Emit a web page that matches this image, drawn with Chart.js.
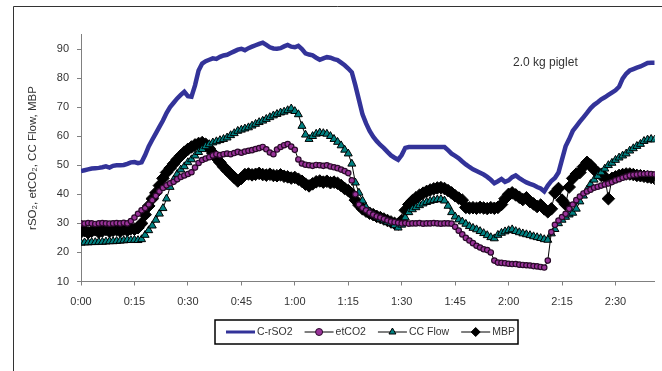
<!DOCTYPE html>
<html>
<head>
<meta charset="utf-8">
<script src="https://cdn.jsdelivr.net/npm/chart.js@4.4.1/dist/chart.umd.min.js"></script>
<style>
  html, body { margin: 0; padding: 0; background: #fff; }
</style>
</head>
<body>
<canvas id="pigletChart" width="662" height="371"></canvas>
<script>
// one reading per minute, 0:00 .. 2:41
const SAMPLE_MIN = 1;

const rso2 = [
  48.0, 48.3, 48.6, 48.9, 49.0, 49.1, 49.3, 49.6, 49.2, 49.8,
  50.0, 50.0, 50.1, 50.5, 51.0, 51.1, 50.7, 51.0, 53.5, 56.5,
  58.8, 61.0, 63.2, 65.4, 68.0, 70.0, 71.5, 73.0, 74.2, 75.3,
  73.8, 73.6, 77.5, 82.6, 85.0, 85.8, 86.3, 86.8, 86.6, 87.3,
  87.8, 88.0, 88.6, 89.2, 89.8, 90.1, 89.6, 90.3, 90.8, 91.3,
  91.8, 92.2, 91.4, 90.6, 90.2, 90.1, 90.3, 90.9, 91.4, 90.8,
  90.6, 91.1, 90.0, 88.5, 88.1, 87.8, 87.0, 86.3, 86.8, 87.2,
  87.0, 86.5, 86.2, 85.3, 84.4, 83.3, 82.0, 77.5, 72.5, 67.5,
  64.4, 61.8, 59.8, 58.3, 57.0, 55.9, 54.6, 53.4, 52.6, 51.9,
  53.5, 56.0, 56.3, 56.3, 56.3, 56.3, 56.3, 56.3, 56.3, 56.3,
  56.3, 56.3, 56.3, 55.2, 54.0, 53.2, 52.4, 51.3, 50.3, 49.4,
  48.6, 48.0, 47.4, 46.8, 46.0, 45.0, 43.8, 44.5, 45.3, 44.3,
  44.8, 45.9, 46.5, 45.6, 44.8, 44.1, 43.6, 43.2, 42.5, 42.0,
  41.0, 43.0, 44.6, 45.6, 47.5, 52.0, 56.5, 59.0, 61.8, 63.4,
  65.0, 66.5, 68.0, 69.6, 70.8, 71.7, 72.7, 73.4, 74.2, 75.0,
  75.8, 77.0, 79.8, 81.5, 82.6, 83.1, 83.6, 84.0, 84.6, 85.2,
  85.3, 85.3
];

const etco2 = [
  30.0, 29.9, 30.1, 30.0, 29.8, 30.0, 30.1, 30.0, 29.9, 30.0,
  30.1, 30.0, 30.2, 30.0, 30.8, 32.0, 33.3, 34.5, 35.3, 36.5,
  38.0, 39.5, 41.0, 42.2, 43.1, 43.8, 44.3, 45.2, 46.0, 46.5,
  47.0, 47.6, 49.2, 50.8, 51.8, 52.3, 52.8, 53.4, 53.8, 53.5,
  53.8, 54.0, 53.8, 54.2, 54.6, 54.3, 54.7, 55.0, 55.2, 55.6,
  55.9, 56.3, 55.5, 54.4, 53.8, 55.4, 56.3, 56.9, 57.3, 56.4,
  55.3, 52.0, 50.6, 50.2, 50.0, 49.8, 50.1, 50.0, 49.8, 50.0,
  49.6, 49.3, 49.0, 48.5, 48.0, 47.3, 44.8, 40.0, 36.5, 35.3,
  34.5, 33.7, 33.0, 32.4, 32.0, 31.5, 31.0, 30.6, 30.4, 30.2,
  30.0, 30.1, 29.9, 30.0, 30.0, 30.1, 29.9, 30.0, 30.0, 30.1,
  30.0, 29.9, 30.0, 30.0, 29.9, 28.8, 27.5, 26.2, 25.0, 24.1,
  23.2, 22.3, 21.7, 21.1, 20.8, 20.0, 17.2, 16.5, 16.4, 16.3,
  16.1, 16.0, 16.0, 15.8, 15.7, 15.6, 15.5, 15.3, 15.2, 15.0,
  14.8, 17.2, 27.0, 29.5, 31.0, 32.2, 33.3, 35.0, 36.5, 38.0,
  39.2, 40.3, 41.0, 41.6, 42.3, 42.6, 43.0, 43.4, 43.7, 44.2,
  44.8, 45.2, 45.7, 46.1, 46.5, 46.7, 46.8, 47.0, 47.0, 47.1,
  47.0, 46.9
];

const ccFlow = [
  23.3, 23.4, 23.4, 23.5, 23.5, 23.6, 23.6, 23.7, 23.8, 23.8,
  23.9, 24.0, 24.1, 24.3, 24.2, 24.3, 24.2, 24.5, 26.0, 27.6,
  29.2, 31.2, 33.3, 35.2, 38.5, 42.5, 45.0, 47.0, 48.5, 49.6,
  51.0, 52.0, 53.3, 54.5, 55.5, 56.5, 57.2, 57.8, 58.2, 58.6,
  59.0, 59.5, 60.3, 61.0, 61.8, 62.2, 62.6, 63.0, 63.6, 64.2,
  64.8, 65.3, 65.9, 66.5, 67.1, 67.6, 68.1, 68.4, 68.9, 69.5,
  68.6, 67.5, 63.5, 60.5, 59.0, 60.0, 60.8, 61.2, 61.0, 60.8,
  60.0, 59.0, 58.0, 56.8, 55.3, 54.0, 50.5, 44.0, 40.5, 37.8,
  35.5, 34.0, 33.0, 32.2, 31.6, 31.0, 30.5, 30.0, 29.3, 28.5,
  29.5, 32.0, 33.8, 34.8, 35.5, 36.2, 36.8, 37.3, 37.7, 38.0,
  38.2, 38.3, 37.8, 36.0, 33.8, 32.3, 31.3, 30.6, 29.8, 29.0,
  28.4, 27.9, 27.3, 26.6, 25.9, 25.2, 24.8, 26.0, 26.7, 27.2,
  27.6, 27.9, 27.3, 26.9, 26.5, 26.2, 25.9, 25.5, 25.2, 24.9,
  24.5, 24.3, 26.5, 28.0, 30.0, 31.2, 32.2, 33.0, 33.6, 35.0,
  37.5, 39.5, 41.5, 43.5, 45.0, 46.3, 47.5, 48.8, 50.0, 50.8,
  51.8, 52.6, 53.3, 54.0, 55.0, 55.8, 56.6, 57.3, 58.3, 58.8,
  59.0, 58.8
];

const mbp = [
  27.0, 27.5, 26.8, 27.3, 27.8, 27.0, 27.4, 27.9, 27.2, 27.6,
  27.8, 27.3, 28.0, 27.6, 28.2, 28.0, 28.5, 30.0, 33.0, 36.0,
  38.5, 40.5, 43.0, 45.5, 47.5, 49.0, 50.5, 52.0, 53.3, 54.5,
  55.5, 56.3, 57.0, 57.5, 57.8, 57.2, 55.8, 54.2, 52.5, 51.0,
  49.5, 48.2, 47.0, 45.8, 44.6, 45.5, 46.8, 47.0, 46.7, 46.9,
  47.2, 46.8, 46.6, 46.9, 46.5, 46.4, 46.7, 46.2, 46.0, 45.6,
  45.8, 45.2, 44.5, 43.5, 42.9, 43.6, 44.3, 44.6, 44.2, 44.5,
  44.0, 44.2, 43.8, 43.0, 42.0, 41.3, 40.2, 38.0, 36.3, 35.0,
  34.2, 33.5, 33.0, 32.4, 32.0, 31.5, 31.0, 30.5, 30.0, 29.8,
  31.0, 34.5, 36.5, 37.8, 38.8, 39.7, 40.4, 41.0, 41.5, 41.9,
  42.2, 42.3, 42.0, 41.3, 40.5, 39.5, 38.7, 38.0, 35.5, 35.3,
  35.4, 35.2, 35.5, 35.3, 35.1, 35.4, 35.2, 35.5, 36.5, 38.5,
  40.0, 40.5, 39.8, 39.0, 38.2, 38.8, 37.5, 36.7, 35.8, 36.3,
  35.0, 34.0, 35.0, 40.5, 42.0, 38.0, 36.5, 42.5, 45.5, 47.0,
  47.5, 49.5, 51.0, 50.0, 48.5, 47.5, 46.5, 46.0, 38.5, 45.5,
  46.0, 46.5, 46.8, 47.0, 47.0, 46.8, 46.5, 46.4, 46.2, 46.0,
  45.8, 45.5
];

const minutes = rso2.map((_, i) => i * SAMPLE_MIN);
const yTicks = [10, 20, 30, 40, 50, 60, 70, 80, 90];
const xTicks = [0, 15, 30, 45, 60, 75, 90, 105, 120, 135, 150];
const noteText = '2.0 kg piglet';

const FONT = '"Liberation Sans", Arial, sans-serif';
const TEXT = '#333333';
const AXIS = '#808080';

Chart.defaults.font.family = FONT;
Chart.defaults.color = TEXT;

const toPoints = (values) => values.map((v, i) => ({ x: minutes[i], y: v }));
const fmtTime = (m) => Math.floor(m / 60) + ':' + String(m % 60).padStart(2, '0');

// frame, note and boxed legend (line with marker in the middle, like the series)
const decor = {
  id: 'decor',
  afterDraw(chart) {
    const ctx = chart.ctx;
    ctx.save();

    ctx.strokeStyle = '#333';
    ctx.lineWidth = 1;
    ctx.beginPath();
    ctx.moveTo(13.5, 371);
    ctx.lineTo(13.5, 6.5);
    ctx.lineTo(662, 6.5);
    ctx.stroke();

    ctx.font = '12px ' + FONT;
    ctx.fillStyle = TEXT;
    ctx.textBaseline = 'middle';
    ctx.textAlign = 'left';
    ctx.fillText(noteText, 513, 63);

    // legend
    const box = { left: 215, top: 320, right: 518, bottom: 344 };
    const cy = (box.top + box.bottom) / 2;
    let x = 226;
    ctx.font = '10.5px ' + FONT;
    chart.data.datasets.forEach(ds => {
      ctx.strokeStyle = ds.borderColor;
      ctx.lineWidth = ds.pointRadius ? 1 : 3;
      ctx.beginPath();
      ctx.moveTo(x, cy);
      ctx.lineTo(x + 29, cy);
      ctx.stroke();
      if (ds.pointRadius) {
        ctx.fillStyle = ds.pointBackgroundColor;
        ctx.strokeStyle = ds.pointBorderColor;
        ctx.lineWidth = 1;
        Chart.helpers.drawPoint(ctx, {
          pointStyle: ds.pointStyle,
          radius: ds.legendRadius,
          borderWidth: 1,
          rotation: 0
        }, x + 14.5, cy);
      }
      ctx.fillStyle = TEXT;
      ctx.fillText(ds.label, x + 31, cy + 0.5);
      x += 31 + ctx.measureText(ds.label).width + 12;
    });
    ctx.strokeStyle = '#000';
    ctx.lineWidth = 1.5;
    ctx.strokeRect(box.left, box.top, box.right - box.left, box.bottom - box.top);

    ctx.restore();
  }
};

new Chart(document.getElementById('pigletChart'), {
  type: 'line',
  data: {
    datasets: [
      {
        label: 'C-rSO2',
        data: toPoints(rso2),
        borderColor: '#333399',
        borderWidth: 4.5,
        pointRadius: 0,
        order: 0
      },
      {
        label: 'etCO2',
        data: toPoints(etco2),
        borderColor: '#000000',
        borderWidth: 1,
        pointStyle: 'circle',
        pointRadius: 2.7,
        pointBorderWidth: 1.2,
        pointBackgroundColor: '#993399',
        pointBorderColor: '#2a0a2a',
        legendRadius: 3.5,
        order: 1
      },
      {
        label: 'CC Flow',
        data: toPoints(ccFlow),
        borderColor: '#000000',
        borderWidth: 1,
        pointStyle: 'triangle',
        pointRadius: 4.6,
        pointBorderWidth: 1,
        pointBackgroundColor: '#008080',
        pointBorderColor: '#000000',
        legendRadius: 4,
        order: 2
      },
      {
        label: 'MBP',
        data: toPoints(mbp),
        borderColor: '#000000',
        borderWidth: 1,
        pointStyle: 'rectRot',
        pointRadius: 6.3,
        pointBorderWidth: 1,
        pointBackgroundColor: '#000000',
        pointBorderColor: '#000000',
        legendRadius: 4.5,
        order: 3
      }
    ]
  },
  options: {
    responsive: false,
    animation: false,
    devicePixelRatio: 1,
    layout: { padding: { top: 34.5, right: 7, bottom: 0, left: 0 } },
    plugins: {
      legend: { display: false },
      tooltip: { enabled: false }
    },
    scales: {
      x: {
        type: 'linear',
        min: 0,
        max: 161,
        afterBuildTicks: (scale) => {
          scale.ticks = xTicks.map(v => ({ value: v }));
        },
        afterFit: (scale) => { scale.height = 89.5; },
        ticks: {
          callback: (v) => fmtTime(v),
          font: { size: 11 },
          padding: 9.5,
          maxRotation: 0,
          autoSkip: false
        },
        grid: { drawOnChartArea: false, tickLength: 4, color: AXIS },
        border: { color: AXIS, width: 1 }
      },
      y: {
        min: 10,
        max: 95,
        afterBuildTicks: (scale) => {
          scale.ticks = yTicks.map(v => ({ value: v }));
        },
        afterFit: (scale) => { scale.width = 81; },
        ticks: { font: { size: 11 }, padding: 8 },
        grid: { drawOnChartArea: false, tickLength: 4, color: AXIS },
        border: { color: AXIS, width: 1 },
        title: {
          display: true,
          text: 'rSO₂, etCO₂, CC Flow, MBP',
          font: { size: 11.5 },
          padding: { top: 26, bottom: 0 }
        }
      }
    }
  },
  plugins: [decor]
});
</script>
</body>
</html>
